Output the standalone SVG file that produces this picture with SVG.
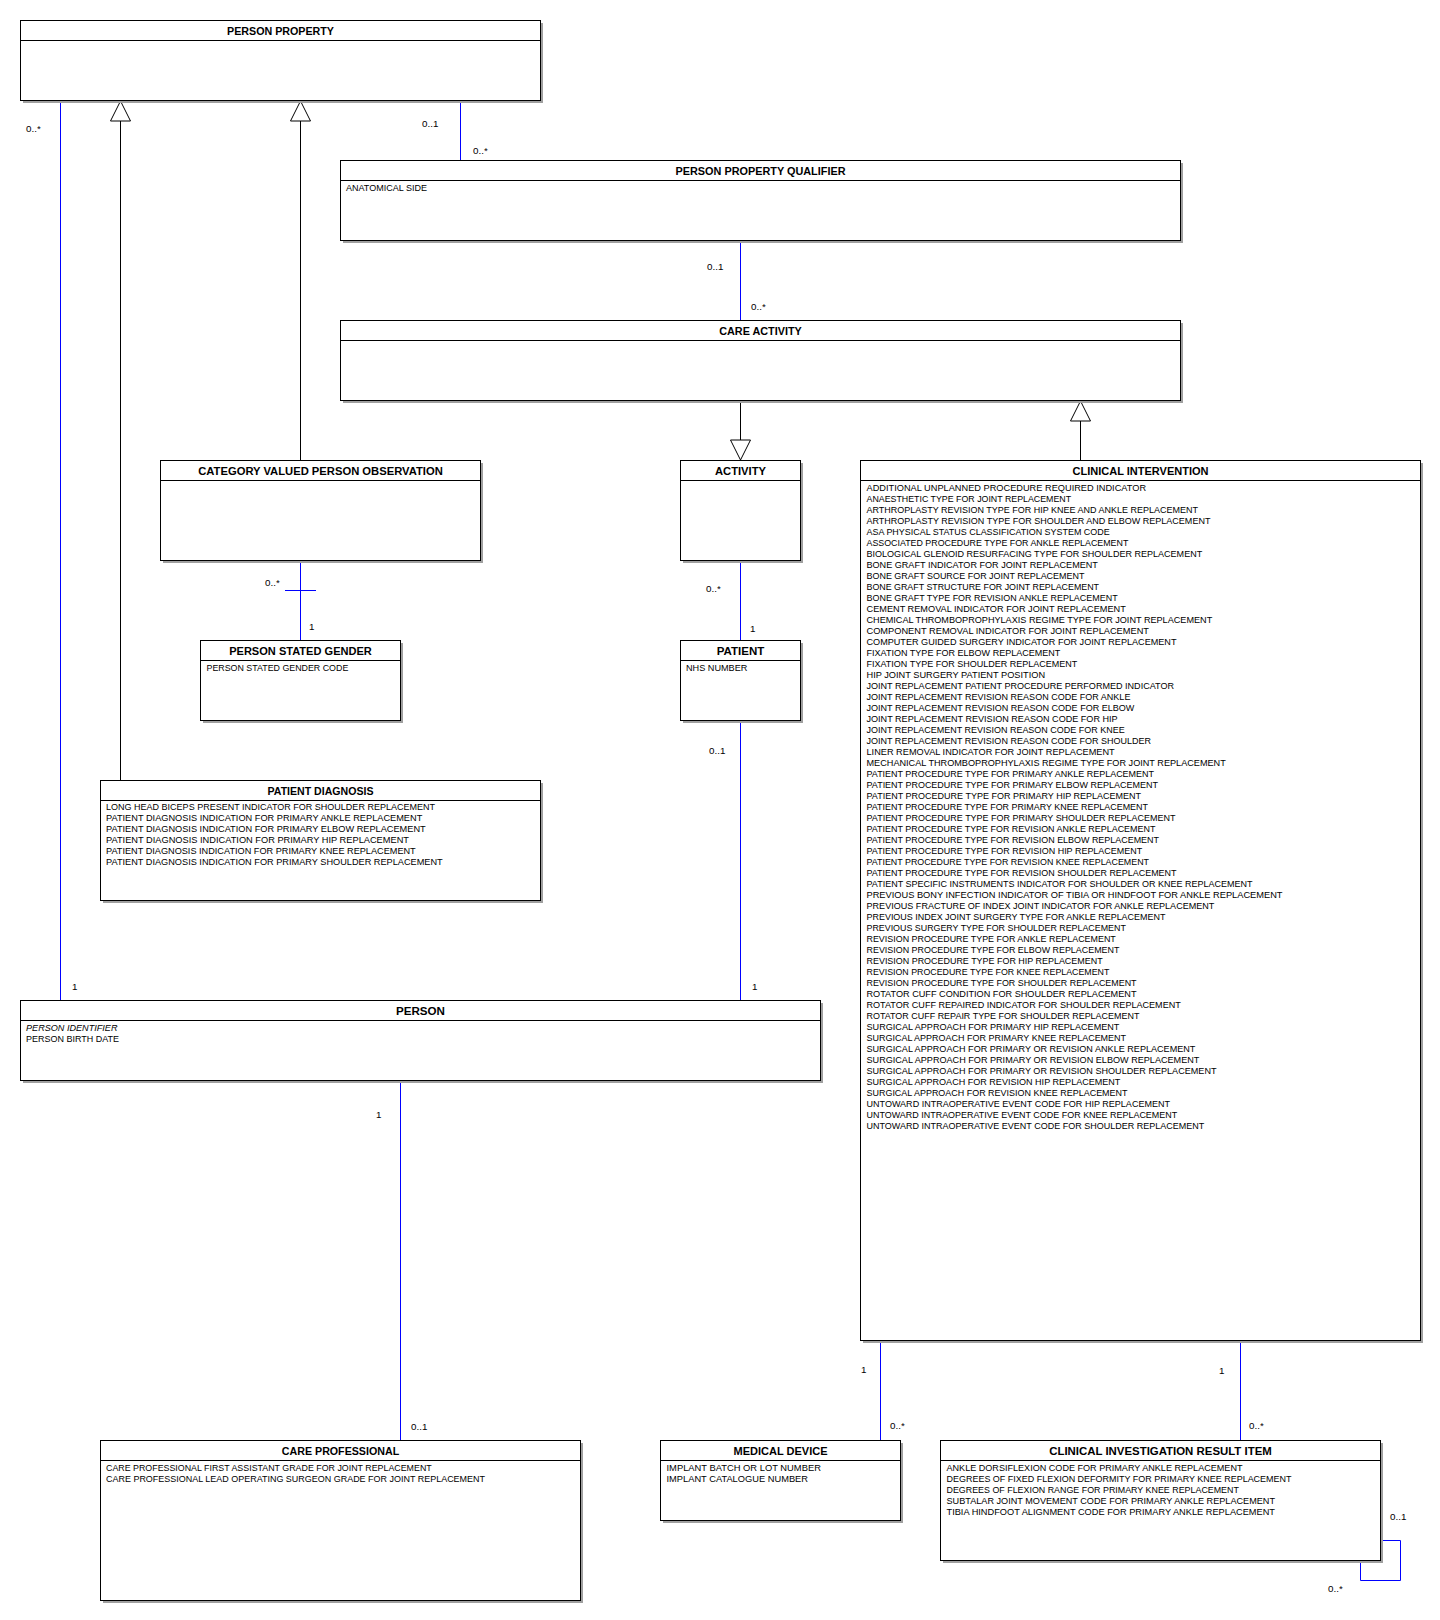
<svg xmlns="http://www.w3.org/2000/svg" width="1440" height="1620" viewBox="0 0 1440 1620">
<style>
.bg{fill:#ffffff}
.sh{fill:#a0a0a0}
.box{fill:#ffffff;stroke:#000000;stroke-width:1}
.hl{stroke:#000000;stroke-width:1}
.hd{font-family:"Liberation Sans",Arial,sans-serif;font-weight:bold;font-size:11.8px;fill:#000;text-anchor:middle}
.at{font-family:"Liberation Sans",Arial,sans-serif;font-size:9.6px;fill:#000}
.it{font-style:italic}
.as{stroke:#0000ff;stroke-width:1;fill:none}
.gen{stroke:#000000;stroke-width:1;fill:none}
.tri{fill:#ffffff;stroke:#000000;stroke-width:1}
.lb{font-family:"Liberation Sans",Arial,sans-serif;font-size:9.8px;fill:#000}
</style>
<rect class="bg" x="0" y="0" width="1440" height="1620"/>

<g id="connectors">
  <line class="as" x1="60.5" y1="100" x2="60.5" y2="1000"/>
  <text class="lb" x="26" y="131.5">0..*</text>
  <text class="lb" x="72" y="990">1</text>
  <line class="gen" x1="120.5" y1="121" x2="120.5" y2="780"/>
  <polygon class="tri" points="120.5,101 110.5,121 130.5,121"/>
  <line class="gen" x1="300.5" y1="121" x2="300.5" y2="460"/>
  <polygon class="tri" points="300.5,101 290.5,121 310.5,121"/>
  <line class="as" x1="460.5" y1="100" x2="460.5" y2="160"/>
  <text class="lb" x="422" y="126.5">0..1</text>
  <text class="lb" x="473" y="153.5">0..*</text>
  <line class="as" x1="740.5" y1="240" x2="740.5" y2="320"/>
  <text class="lb" x="707" y="270">0..1</text>
  <text class="lb" x="751" y="310">0..*</text>
  <line class="gen" x1="740.5" y1="400" x2="740.5" y2="440"/>
  <polygon class="tri" points="730.5,440 750.5,440 740.5,460"/>
  <line class="gen" x1="1080.5" y1="421" x2="1080.5" y2="460"/>
  <polygon class="tri" points="1080.5,401 1070.5,421 1090.5,421"/>
  <line class="as" x1="300.5" y1="560" x2="300.5" y2="640"/>
  <line class="as" x1="285" y1="590.5" x2="316" y2="590.5"/>
  <text class="lb" x="265" y="586">0..*</text>
  <text class="lb" x="309" y="630">1</text>
  <line class="as" x1="740.5" y1="560" x2="740.5" y2="640"/>
  <text class="lb" x="706" y="591.5">0..*</text>
  <text class="lb" x="750" y="631.5">1</text>
  <line class="as" x1="740.5" y1="720" x2="740.5" y2="1000"/>
  <text class="lb" x="709" y="753.5">0..1</text>
  <text class="lb" x="752" y="990">1</text>
  <line class="as" x1="400.5" y1="1080" x2="400.5" y2="1440"/>
  <text class="lb" x="376" y="1118">1</text>
  <text class="lb" x="411" y="1430">0..1</text>
  <line class="as" x1="880.5" y1="1340" x2="880.5" y2="1440"/>
  <text class="lb" x="861" y="1372.5">1</text>
  <text class="lb" x="890" y="1428.5">0..*</text>
  <line class="as" x1="1240.5" y1="1340" x2="1240.5" y2="1440"/>
  <text class="lb" x="1219" y="1373.5">1</text>
  <text class="lb" x="1249" y="1429">0..*</text>
  <path class="as" d="M1380,1540.5 H1400.5 V1580.5 H1360.5 V1560"/>
  <text class="lb" x="1390" y="1519.5">0..1</text>
  <text class="lb" x="1328" y="1592">0..*</text>
</g>

<g id="person-property">
  <rect class="sh" x="23" y="23" width="520" height="80"/>
  <rect class="box" x="20.5" y="20.5" width="520" height="80"/>
  <line class="hl" x1="20.5" y1="40.5" x2="540.5" y2="40.5"/>
  <text class="hd" x="280.5" y="35" textLength="107" lengthAdjust="spacingAndGlyphs">PERSON PROPERTY</text>
</g>

<g id="person-property-qualifier">
  <rect class="sh" x="343" y="163" width="840" height="80"/>
  <rect class="box" x="340.5" y="160.5" width="840" height="80"/>
  <line class="hl" x1="340.5" y1="180.5" x2="1180.5" y2="180.5"/>
  <text class="hd" x="760.5" y="175" textLength="170" lengthAdjust="spacingAndGlyphs">PERSON PROPERTY QUALIFIER</text>
  <text class="at" x="346" y="191" textLength="81" lengthAdjust="spacingAndGlyphs">ANATOMICAL SIDE</text>
</g>

<g id="care-activity">
  <rect class="sh" x="343" y="323" width="840" height="80"/>
  <rect class="box" x="340.5" y="320.5" width="840" height="80"/>
  <line class="hl" x1="340.5" y1="340.5" x2="1180.5" y2="340.5"/>
  <text class="hd" x="760.5" y="335" textLength="82.5" lengthAdjust="spacingAndGlyphs">CARE ACTIVITY</text>
</g>

<g id="category-valued-person-observation">
  <rect class="sh" x="163" y="463" width="320" height="100"/>
  <rect class="box" x="160.5" y="460.5" width="320" height="100"/>
  <line class="hl" x1="160.5" y1="480.5" x2="480.5" y2="480.5"/>
  <text class="hd" x="320.5" y="475" textLength="244.5" lengthAdjust="spacingAndGlyphs">CATEGORY VALUED PERSON OBSERVATION</text>
</g>

<g id="activity">
  <rect class="sh" x="683" y="463" width="120" height="100"/>
  <rect class="box" x="680.5" y="460.5" width="120" height="100"/>
  <line class="hl" x1="680.5" y1="480.5" x2="800.5" y2="480.5"/>
  <text class="hd" x="740.5" y="475" textLength="51" lengthAdjust="spacingAndGlyphs">ACTIVITY</text>
</g>

<g id="person-stated-gender">
  <rect class="sh" x="203" y="643" width="200" height="80"/>
  <rect class="box" x="200.5" y="640.5" width="200" height="80"/>
  <line class="hl" x1="200.5" y1="660.5" x2="400.5" y2="660.5"/>
  <text class="hd" x="300.5" y="655" textLength="142.7" lengthAdjust="spacingAndGlyphs">PERSON STATED GENDER</text>
  <text class="at" x="206.5" y="671" textLength="141.8" lengthAdjust="spacingAndGlyphs">PERSON STATED GENDER CODE</text>
</g>

<g id="patient">
  <rect class="sh" x="683" y="643" width="120" height="80"/>
  <rect class="box" x="680.5" y="640.5" width="120" height="80"/>
  <line class="hl" x1="680.5" y1="660.5" x2="800.5" y2="660.5"/>
  <text class="hd" x="740.5" y="655" textLength="47.6" lengthAdjust="spacingAndGlyphs">PATIENT</text>
  <text class="at" x="686" y="671" textLength="61.4" lengthAdjust="spacingAndGlyphs">NHS NUMBER</text>
</g>

<g id="patient-diagnosis">
  <rect class="sh" x="103" y="783" width="440" height="120"/>
  <rect class="box" x="100.5" y="780.5" width="440" height="120"/>
  <line class="hl" x1="100.5" y1="800.5" x2="540.5" y2="800.5"/>
  <text class="hd" x="320.5" y="795" textLength="106" lengthAdjust="spacingAndGlyphs">PATIENT DIAGNOSIS</text>
  <text class="at" x="106" y="810" textLength="329" lengthAdjust="spacingAndGlyphs">LONG HEAD BICEPS PRESENT INDICATOR FOR SHOULDER REPLACEMENT</text>
  <text class="at" x="106" y="821" textLength="316.3" lengthAdjust="spacingAndGlyphs">PATIENT DIAGNOSIS INDICATION FOR PRIMARY ANKLE REPLACEMENT</text>
  <text class="at" x="106" y="832" textLength="319.7" lengthAdjust="spacingAndGlyphs">PATIENT DIAGNOSIS INDICATION FOR PRIMARY ELBOW REPLACEMENT</text>
  <text class="at" x="106" y="843" textLength="303" lengthAdjust="spacingAndGlyphs">PATIENT DIAGNOSIS INDICATION FOR PRIMARY HIP REPLACEMENT</text>
  <text class="at" x="106" y="854" textLength="309.7" lengthAdjust="spacingAndGlyphs">PATIENT DIAGNOSIS INDICATION FOR PRIMARY KNEE REPLACEMENT</text>
  <text class="at" x="106" y="865" textLength="336.7" lengthAdjust="spacingAndGlyphs">PATIENT DIAGNOSIS INDICATION FOR PRIMARY SHOULDER REPLACEMENT</text>
</g>

<g id="clinical-intervention">
  <rect class="sh" x="863" y="463" width="560" height="880"/>
  <rect class="box" x="860.5" y="460.5" width="560" height="880"/>
  <line class="hl" x1="860.5" y1="480.5" x2="1420.5" y2="480.5"/>
  <text class="hd" x="1140.5" y="475" textLength="136" lengthAdjust="spacingAndGlyphs">CLINICAL INTERVENTION</text>
  <text class="at" x="866.5" y="491" textLength="279.6" lengthAdjust="spacingAndGlyphs">ADDITIONAL UNPLANNED PROCEDURE REQUIRED INDICATOR</text>
  <text class="at" x="866.5" y="502" textLength="204.6" lengthAdjust="spacingAndGlyphs">ANAESTHETIC TYPE FOR JOINT REPLACEMENT</text>
  <text class="at" x="866.5" y="513" textLength="331.4" lengthAdjust="spacingAndGlyphs">ARTHROPLASTY REVISION TYPE FOR HIP KNEE AND ANKLE REPLACEMENT</text>
  <text class="at" x="866.5" y="524" textLength="343.9" lengthAdjust="spacingAndGlyphs">ARTHROPLASTY REVISION TYPE FOR SHOULDER AND ELBOW REPLACEMENT</text>
  <text class="at" x="866.5" y="535" textLength="243.2" lengthAdjust="spacingAndGlyphs">ASA PHYSICAL STATUS CLASSIFICATION SYSTEM CODE</text>
  <text class="at" x="866.5" y="546" textLength="261.8" lengthAdjust="spacingAndGlyphs">ASSOCIATED PROCEDURE TYPE FOR ANKLE REPLACEMENT</text>
  <text class="at" x="866.5" y="557" textLength="335.7" lengthAdjust="spacingAndGlyphs">BIOLOGICAL GLENOID RESURFACING TYPE FOR SHOULDER REPLACEMENT</text>
  <text class="at" x="866.5" y="568" textLength="231.4" lengthAdjust="spacingAndGlyphs">BONE GRAFT INDICATOR FOR JOINT REPLACEMENT</text>
  <text class="at" x="866.5" y="579" textLength="217.9" lengthAdjust="spacingAndGlyphs">BONE GRAFT SOURCE FOR JOINT REPLACEMENT</text>
  <text class="at" x="866.5" y="590" textLength="232.5" lengthAdjust="spacingAndGlyphs">BONE GRAFT STRUCTURE FOR JOINT REPLACEMENT</text>
  <text class="at" x="866.5" y="601" textLength="251.1" lengthAdjust="spacingAndGlyphs">BONE GRAFT TYPE FOR REVISION ANKLE REPLACEMENT</text>
  <text class="at" x="866.5" y="612" textLength="259.3" lengthAdjust="spacingAndGlyphs">CEMENT REMOVAL INDICATOR FOR JOINT REPLACEMENT</text>
  <text class="at" x="866.5" y="623" textLength="345.7" lengthAdjust="spacingAndGlyphs">CHEMICAL THROMBOPROPHYLAXIS REGIME TYPE FOR JOINT REPLACEMENT</text>
  <text class="at" x="866.5" y="634" textLength="282.5" lengthAdjust="spacingAndGlyphs">COMPONENT REMOVAL INDICATOR FOR JOINT REPLACEMENT</text>
  <text class="at" x="866.5" y="645" textLength="310" lengthAdjust="spacingAndGlyphs">COMPUTER GUIDED SURGERY INDICATOR FOR JOINT REPLACEMENT</text>
  <text class="at" x="866.5" y="656" textLength="193.9" lengthAdjust="spacingAndGlyphs">FIXATION TYPE FOR ELBOW REPLACEMENT</text>
  <text class="at" x="866.5" y="667" textLength="210.7" lengthAdjust="spacingAndGlyphs">FIXATION TYPE FOR SHOULDER REPLACEMENT</text>
  <text class="at" x="866.5" y="678" textLength="178.6" lengthAdjust="spacingAndGlyphs">HIP JOINT SURGERY PATIENT POSITION</text>
  <text class="at" x="866.5" y="689" textLength="307.5" lengthAdjust="spacingAndGlyphs">JOINT REPLACEMENT PATIENT PROCEDURE PERFORMED INDICATOR</text>
  <text class="at" x="866.5" y="700" textLength="263.9" lengthAdjust="spacingAndGlyphs">JOINT REPLACEMENT REVISION REASON CODE FOR ANKLE</text>
  <text class="at" x="866.5" y="711" textLength="267.9" lengthAdjust="spacingAndGlyphs">JOINT REPLACEMENT REVISION REASON CODE FOR ELBOW</text>
  <text class="at" x="866.5" y="722" textLength="251.1" lengthAdjust="spacingAndGlyphs">JOINT REPLACEMENT REVISION REASON CODE FOR HIP</text>
  <text class="at" x="866.5" y="733" textLength="258.2" lengthAdjust="spacingAndGlyphs">JOINT REPLACEMENT REVISION REASON CODE FOR KNEE</text>
  <text class="at" x="866.5" y="744" textLength="284.6" lengthAdjust="spacingAndGlyphs">JOINT REPLACEMENT REVISION REASON CODE FOR SHOULDER</text>
  <text class="at" x="866.5" y="755" textLength="248.2" lengthAdjust="spacingAndGlyphs">LINER REMOVAL INDICATOR FOR JOINT REPLACEMENT</text>
  <text class="at" x="866.5" y="766" textLength="359.3" lengthAdjust="spacingAndGlyphs">MECHANICAL THROMBOPROPHYLAXIS REGIME TYPE FOR JOINT REPLACEMENT</text>
  <text class="at" x="866.5" y="777" textLength="287.5" lengthAdjust="spacingAndGlyphs">PATIENT PROCEDURE TYPE FOR PRIMARY ANKLE REPLACEMENT</text>
  <text class="at" x="866.5" y="788" textLength="291.4" lengthAdjust="spacingAndGlyphs">PATIENT PROCEDURE TYPE FOR PRIMARY ELBOW REPLACEMENT</text>
  <text class="at" x="866.5" y="799" textLength="274.6" lengthAdjust="spacingAndGlyphs">PATIENT PROCEDURE TYPE FOR PRIMARY HIP REPLACEMENT</text>
  <text class="at" x="866.5" y="810" textLength="281.4" lengthAdjust="spacingAndGlyphs">PATIENT PROCEDURE TYPE FOR PRIMARY KNEE REPLACEMENT</text>
  <text class="at" x="866.5" y="821" textLength="308.9" lengthAdjust="spacingAndGlyphs">PATIENT PROCEDURE TYPE FOR PRIMARY SHOULDER REPLACEMENT</text>
  <text class="at" x="866.5" y="832" textLength="288.9" lengthAdjust="spacingAndGlyphs">PATIENT PROCEDURE TYPE FOR REVISION ANKLE REPLACEMENT</text>
  <text class="at" x="866.5" y="843" textLength="292.5" lengthAdjust="spacingAndGlyphs">PATIENT PROCEDURE TYPE FOR REVISION ELBOW REPLACEMENT</text>
  <text class="at" x="866.5" y="854" textLength="275.7" lengthAdjust="spacingAndGlyphs">PATIENT PROCEDURE TYPE FOR REVISION HIP REPLACEMENT</text>
  <text class="at" x="866.5" y="865" textLength="282.5" lengthAdjust="spacingAndGlyphs">PATIENT PROCEDURE TYPE FOR REVISION KNEE REPLACEMENT</text>
  <text class="at" x="866.5" y="876" textLength="310" lengthAdjust="spacingAndGlyphs">PATIENT PROCEDURE TYPE FOR REVISION SHOULDER REPLACEMENT</text>
  <text class="at" x="866.5" y="887" textLength="386" lengthAdjust="spacingAndGlyphs">PATIENT SPECIFIC INSTRUMENTS INDICATOR FOR SHOULDER OR KNEE REPLACEMENT</text>
  <text class="at" x="866.5" y="898" textLength="416" lengthAdjust="spacingAndGlyphs">PREVIOUS BONY INFECTION INDICATOR OF TIBIA OR HINDFOOT FOR ANKLE REPLACEMENT</text>
  <text class="at" x="866.5" y="909" textLength="347.9" lengthAdjust="spacingAndGlyphs">PREVIOUS FRACTURE OF INDEX JOINT INDICATOR FOR ANKLE REPLACEMENT</text>
  <text class="at" x="866.5" y="920" textLength="298.9" lengthAdjust="spacingAndGlyphs">PREVIOUS INDEX JOINT SURGERY TYPE FOR ANKLE REPLACEMENT</text>
  <text class="at" x="866.5" y="931" textLength="259.3" lengthAdjust="spacingAndGlyphs">PREVIOUS SURGERY TYPE FOR SHOULDER REPLACEMENT</text>
  <text class="at" x="866.5" y="942" textLength="249.3" lengthAdjust="spacingAndGlyphs">REVISION PROCEDURE TYPE FOR ANKLE REPLACEMENT</text>
  <text class="at" x="866.5" y="953" textLength="252.9" lengthAdjust="spacingAndGlyphs">REVISION PROCEDURE TYPE FOR ELBOW REPLACEMENT</text>
  <text class="at" x="866.5" y="964" textLength="236.1" lengthAdjust="spacingAndGlyphs">REVISION PROCEDURE TYPE FOR HIP REPLACEMENT</text>
  <text class="at" x="866.5" y="975" textLength="242.9" lengthAdjust="spacingAndGlyphs">REVISION PROCEDURE TYPE FOR KNEE REPLACEMENT</text>
  <text class="at" x="866.5" y="986" textLength="270" lengthAdjust="spacingAndGlyphs">REVISION PROCEDURE TYPE FOR SHOULDER REPLACEMENT</text>
  <text class="at" x="866.5" y="997" textLength="270" lengthAdjust="spacingAndGlyphs">ROTATOR CUFF CONDITION FOR SHOULDER REPLACEMENT</text>
  <text class="at" x="866.5" y="1008" textLength="314.3" lengthAdjust="spacingAndGlyphs">ROTATOR CUFF REPAIRED INDICATOR FOR SHOULDER REPLACEMENT</text>
  <text class="at" x="866.5" y="1019" textLength="272.9" lengthAdjust="spacingAndGlyphs">ROTATOR CUFF REPAIR TYPE FOR SHOULDER REPLACEMENT</text>
  <text class="at" x="866.5" y="1030" textLength="252.9" lengthAdjust="spacingAndGlyphs">SURGICAL APPROACH FOR PRIMARY HIP REPLACEMENT</text>
  <text class="at" x="866.5" y="1041" textLength="259.6" lengthAdjust="spacingAndGlyphs">SURGICAL APPROACH FOR PRIMARY KNEE REPLACEMENT</text>
  <text class="at" x="866.5" y="1052" textLength="328.9" lengthAdjust="spacingAndGlyphs">SURGICAL APPROACH FOR PRIMARY OR REVISION ANKLE REPLACEMENT</text>
  <text class="at" x="866.5" y="1063" textLength="332.9" lengthAdjust="spacingAndGlyphs">SURGICAL APPROACH FOR PRIMARY OR REVISION ELBOW REPLACEMENT</text>
  <text class="at" x="866.5" y="1074" textLength="350" lengthAdjust="spacingAndGlyphs">SURGICAL APPROACH FOR PRIMARY OR REVISION SHOULDER REPLACEMENT</text>
  <text class="at" x="866.5" y="1085" textLength="253.9" lengthAdjust="spacingAndGlyphs">SURGICAL APPROACH FOR REVISION HIP REPLACEMENT</text>
  <text class="at" x="866.5" y="1096" textLength="261" lengthAdjust="spacingAndGlyphs">SURGICAL APPROACH FOR REVISION KNEE REPLACEMENT</text>
  <text class="at" x="866.5" y="1107" textLength="303.5" lengthAdjust="spacingAndGlyphs">UNTOWARD INTRAOPERATIVE EVENT CODE FOR HIP REPLACEMENT</text>
  <text class="at" x="866.5" y="1118" textLength="310.7" lengthAdjust="spacingAndGlyphs">UNTOWARD INTRAOPERATIVE EVENT CODE FOR KNEE REPLACEMENT</text>
  <text class="at" x="866.5" y="1129" textLength="337.7" lengthAdjust="spacingAndGlyphs">UNTOWARD INTRAOPERATIVE EVENT CODE FOR SHOULDER REPLACEMENT</text>
</g>

<g id="person">
  <rect class="sh" x="23" y="1003" width="800" height="80"/>
  <rect class="box" x="20.5" y="1000.5" width="800" height="80"/>
  <line class="hl" x1="20.5" y1="1020.5" x2="820.5" y2="1020.5"/>
  <text class="hd" x="420.5" y="1015" textLength="49" lengthAdjust="spacingAndGlyphs">PERSON</text>
  <text class="at it" x="26" y="1031" textLength="91.5" lengthAdjust="spacingAndGlyphs">PERSON IDENTIFIER</text>
  <text class="at" x="26" y="1042" textLength="93" lengthAdjust="spacingAndGlyphs">PERSON BIRTH DATE</text>
</g>

<g id="care-professional">
  <rect class="sh" x="103" y="1443" width="480" height="160"/>
  <rect class="box" x="100.5" y="1440.5" width="480" height="160"/>
  <line class="hl" x1="100.5" y1="1460.5" x2="580.5" y2="1460.5"/>
  <text class="hd" x="340.5" y="1455" textLength="117.3" lengthAdjust="spacingAndGlyphs">CARE PROFESSIONAL</text>
  <text class="at" x="106" y="1471" textLength="325.7" lengthAdjust="spacingAndGlyphs">CARE PROFESSIONAL FIRST ASSISTANT GRADE FOR JOINT REPLACEMENT</text>
  <text class="at" x="106" y="1482" textLength="379" lengthAdjust="spacingAndGlyphs">CARE PROFESSIONAL LEAD OPERATING SURGEON GRADE FOR JOINT REPLACEMENT</text>
</g>

<g id="medical-device">
  <rect class="sh" x="663" y="1443" width="240" height="80"/>
  <rect class="box" x="660.5" y="1440.5" width="240" height="80"/>
  <line class="hl" x1="660.5" y1="1460.5" x2="900.5" y2="1460.5"/>
  <text class="hd" x="780.5" y="1455" textLength="94" lengthAdjust="spacingAndGlyphs">MEDICAL DEVICE</text>
  <text class="at" x="666.5" y="1471" textLength="154.4" lengthAdjust="spacingAndGlyphs">IMPLANT BATCH OR LOT NUMBER</text>
  <text class="at" x="666.5" y="1482" textLength="141.5" lengthAdjust="spacingAndGlyphs">IMPLANT CATALOGUE NUMBER</text>
</g>

<g id="clinical-investigation-result-item">
  <rect class="sh" x="943" y="1443" width="440" height="120"/>
  <rect class="box" x="940.5" y="1440.5" width="440" height="120"/>
  <line class="hl" x1="940.5" y1="1460.5" x2="1380.5" y2="1460.5"/>
  <text class="hd" x="1160.5" y="1455" textLength="222.6" lengthAdjust="spacingAndGlyphs">CLINICAL INVESTIGATION RESULT ITEM</text>
  <text class="at" x="946.5" y="1471" textLength="296" lengthAdjust="spacingAndGlyphs">ANKLE DORSIFLEXION CODE FOR PRIMARY ANKLE REPLACEMENT</text>
  <text class="at" x="946.5" y="1482" textLength="345" lengthAdjust="spacingAndGlyphs">DEGREES OF FIXED FLEXION DEFORMITY FOR PRIMARY KNEE REPLACEMENT</text>
  <text class="at" x="946.5" y="1493" textLength="292.4" lengthAdjust="spacingAndGlyphs">DEGREES OF FLEXION RANGE FOR PRIMARY KNEE REPLACEMENT</text>
  <text class="at" x="946.5" y="1504" textLength="328.5" lengthAdjust="spacingAndGlyphs">SUBTALAR JOINT MOVEMENT CODE FOR PRIMARY ANKLE REPLACEMENT</text>
  <text class="at" x="946.5" y="1515" textLength="328.5" lengthAdjust="spacingAndGlyphs">TIBIA HINDFOOT ALIGNMENT CODE FOR PRIMARY ANKLE REPLACEMENT</text>
</g>
</svg>
